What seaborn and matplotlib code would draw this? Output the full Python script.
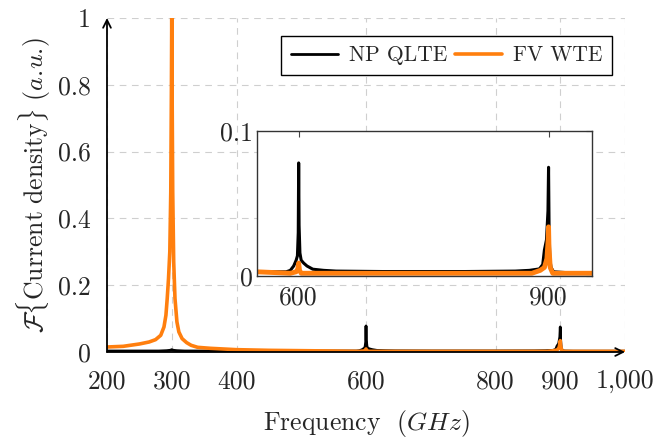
import numpy as np
import pandas as pd
import matplotlib
matplotlib.use('Agg')
import matplotlib.pyplot as plt
import seaborn as sns

# Spectrum values (frequency in GHz, amplitude in a.u.)
freq_np = [200, 250, 280, 292, 297, 299, 300, 301, 303, 308, 320, 400, 500,
           585, 590, 594, 597, 598.5, 599.5, 600, 600.5, 601.5, 603, 606,
           610, 617, 630, 645, 700, 800, 860, 877, 889, 893, 895, 897.5,
           899.3, 900, 900.6, 901.5, 903, 906, 920, 1000]
amp_np = [0.003, 0.003, 0.003, 0.004, 0.005, 0.006, 0.007, 0.006, 0.005, 0.004,
          0.003, 0.003, 0.003, 0.003, 0.004, 0.007, 0.011, 0.014, 0.03, 0.078,
          0.035, 0.016, 0.011, 0.009, 0.007, 0.0048, 0.004, 0.0035, 0.0032,
          0.0032, 0.0035, 0.004, 0.005, 0.008, 0.018, 0.025, 0.045, 0.075,
          0.035, 0.012, 0.006, 0.003, 0.0025, 0.0025]

freq_fv = [200, 225, 250, 265, 275, 283, 288, 291, 293, 295, 297, 298.5,
           299.5, 300, 300.5, 301.5, 303, 305, 308, 311, 316, 323, 330, 340,
           360, 400, 450, 500, 550, 590, 597, 599, 600, 601, 603, 700, 800,
           880, 890, 895, 898, 899.5, 900, 900.5, 902, 905, 950, 1000]
amp_fv = [0.015, 0.017, 0.024, 0.03, 0.037, 0.05, 0.075, 0.11, 0.16, 0.22,
          0.3, 0.48, 0.8, 1.0, 0.8, 0.48, 0.27, 0.16, 0.09, 0.06, 0.04,
          0.028, 0.02, 0.014, 0.011, 0.007, 0.005, 0.004, 0.003, 0.002,
          0.003, 0.005, 0.009, 0.004, 0.002, 0.002, 0.002, 0.002, 0.004,
          0.006, 0.012, 0.025, 0.034, 0.02, 0.006, 0.002, 0.002, 0.002]

x_ticks = [200, 300, 400, 600, 800, 900, 1000]
x_tick_labels = ['200', '300', '400', '600', '800', '900', '1,000']
y_ticks = [0, 0.2, 0.4, 0.6, 0.8, 1]
y_tick_labels = ['0', '0.2', '0.4', '0.6', '0.8', '1']

inset_x_ticks = [600, 900]
inset_y_ticks = [0, 0.1]
inset_y_tick_labels = ['0', '0.1']

df_np = pd.DataFrame({'f': freq_np, 'a': amp_np})
df_fv = pd.DataFrame({'f': freq_fv, 'a': amp_fv})

sns.set_style('white')
plt.rcParams['font.family'] = ['cmr10']
plt.rcParams['mathtext.fontset'] = 'cm'
plt.rcParams['axes.unicode_minus'] = False
plt.rcParams['axes.formatter.use_mathtext'] = True
plt.rcParams['font.size'] = 18

orange = '#ff7f0e'
fs = 18.5

fig = plt.figure(figsize=(6.54, 4.44), dpi=100)
ax = fig.add_axes([0.1636, 0.2072, 0.7921, 0.7523])

sns.lineplot(data=df_np, x='f', y='a', color='black', lw=2, ax=ax,
             estimator=None, sort=False, label='NP QLTE')
sns.lineplot(data=df_fv, x='f', y='a', color=orange, lw=2.6, ax=ax,
             estimator=None, sort=False, label='FV WTE')

ax.set_xlim(200, 1000)
ax.set_ylim(0, 1)
ax.set_xticks(x_ticks)
ax.set_xticklabels(x_tick_labels)
ax.set_yticks(y_ticks)
ax.set_yticklabels(y_tick_labels)
ax.grid(True, color='#cfcfcf', linestyle=(0, (6, 5)), lw=0.8)
ax.set_axisbelow(True)
for s in ['top', 'right', 'left', 'bottom']:
    ax.spines[s].set_visible(False)
ax.tick_params(direction='inout', length=5, width=0.8, labelsize=fs)
ax.tick_params(axis='x', pad=10)
ax.tick_params(axis='y', pad=9)

# pgfplots style arrow axes
ax.annotate('', xy=(1.0, 0), xytext=(0, 0), xycoords='axes fraction',
            arrowprops=dict(arrowstyle='->', lw=1.3, color='black',
                            shrinkA=0, shrinkB=0, mutation_scale=14))
ax.annotate('', xy=(0, 1.0), xytext=(0, 0), xycoords='axes fraction',
            arrowprops=dict(arrowstyle='->', lw=1.3, color='black',
                            shrinkA=0, shrinkB=0, mutation_scale=14))

ax.set_xlabel('Frequency  $(GHz)$', fontsize=fs, labelpad=11)
ax.set_ylabel(r'$\mathcal{F}\{\mathrm{Current\ density}\}\ (a.\!u.\!)$',
              fontsize=fs, labelpad=4)

leg = ax.legend(loc='upper right', bbox_to_anchor=(0.975, 0.946), ncol=2,
                frameon=True, fancybox=False, edgecolor='black', framealpha=1,
                fontsize=15.5, handlelength=2.2, columnspacing=0.35,
                handletextpad=0.5, borderpad=0.45, borderaxespad=0)
leg.get_frame().set_linewidth(1.0)

# inset
axi = fig.add_axes([0.393, 0.378, 0.512, 0.327])
sns.lineplot(data=df_np, x='f', y='a', color='black', lw=2.2, ax=axi,
             estimator=None, sort=False, legend=False)
sns.lineplot(data=df_fv, x='f', y='a', color=orange, lw=3.5, ax=axi,
             estimator=None, sort=False, legend=False)
axi.set_xlim(550, 952)
axi.set_ylim(0, 0.1)
axi.set_xticks(inset_x_ticks)
axi.set_xticklabels([str(t) for t in inset_x_ticks])
axi.set_yticks(inset_y_ticks)
axi.set_yticklabels(inset_y_tick_labels)
axi.set_xlabel('')
axi.set_ylabel('')
axi.tick_params(direction='in', length=4, width=0.8, top=True, right=True,
                labelsize=fs, color='#444444')
axi.tick_params(axis='x', pad=7)
axi.tick_params(axis='y', pad=3)
for s in axi.spines.values():
    s.set_linewidth(1.0)
    s.set_color('#333333')

fig.savefig('out.png', dpi=100)
